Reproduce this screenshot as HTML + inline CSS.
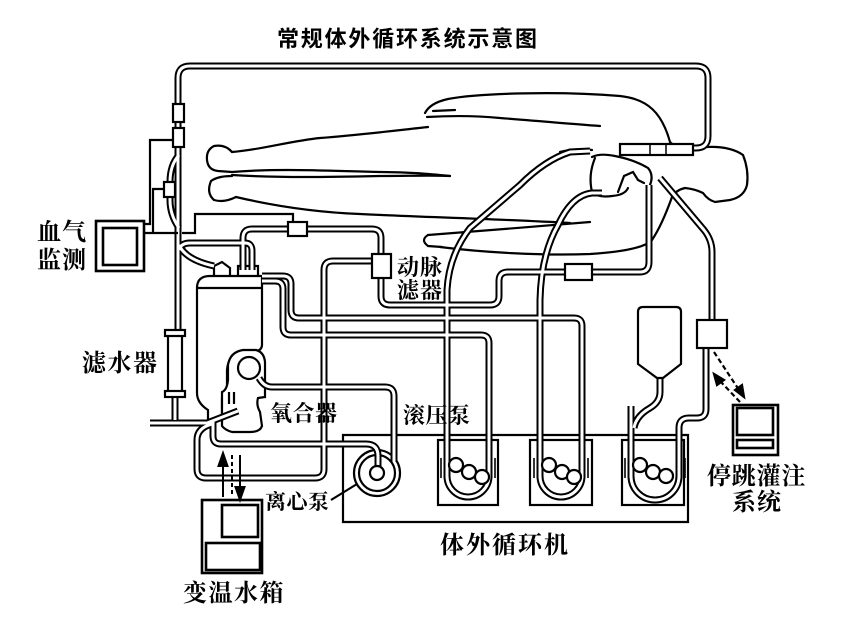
<!DOCTYPE html>
<html>
<head>
<meta charset="utf-8">
<style>
  html,body{margin:0;padding:0;background:#fff;}
  svg{display:block;}
  .lbl{font-family:"Liberation Serif","Noto Serif CJK SC",serif;font-weight:bold;fill:#000;}
  .ttl{font-family:"Liberation Sans","Noto Sans CJK SC",sans-serif;font-weight:bold;fill:#000;}
</style>
</head>
<body>
<svg width="845" height="631" viewBox="0 0 845 631" xmlns="http://www.w3.org/2000/svg">
<rect width="845" height="631" fill="#fff"/>

<defs>
  <g id="tubes" fill="none">
    <path d="M178,330 V78 Q178,66 190,66 H696 Q708,66 708,78 V136 Q708,148 696,148 H620"/>
    <path d="M179,155 Q170,165 170,182 V200 Q170,215 179,228"/>
    <path d="M179,245 Q186,260 214,266"/>
    <path d="M179,250 Q181,243 190,243 H245 Q252,243 252,251 V270"/>
    <path d="M243,270 V238 Q243,229 252,229 H372 Q381,229 381,238 V255"/>
    <path d="M381,279 V296 Q381,305 390,305 H490 Q499,305 499,296 V281 Q499,272 508,272 H566"/>
    <path d="M592,272 H640 Q649,272 649,262 V185"/>
    <path d="M372,261 H333 Q324,261 324,270 V469 Q324,478 315,478 H206 Q197,478 197,469 V440 Q197,428 212,424"/>
    <path d="M262,276 H283 Q291,276 291,284 V310 Q291,318 299,318 H574 Q582,318 582,326 V478"/>
    <path d="M262,281 H275 Q283,281 283,289 V327 Q283,335 291,335 H481 Q489,335 489,343 V478"/>
    <path d="M447,468 V476 A21,21 0 0 0 489,476 V468"/>
    <path d="M447,478 V290 Q449,255 470,228 L520,185 Q545,160 570,152 L590,151"/>
    <path d="M540,468 V476 A21,21 0 0 0 582,476 V468"/>
    <path d="M540,478 V300 Q541,255 558,225 Q572,195 592,193 L602,193"/>
    <path d="M631,468 V476 A24,24 0 0 0 679,476 V468"/>
    <path d="M631,478 V406"/>
    <path d="M660,378 V392 Q660,402 650,408 Q636,416 634,428"/>
    <path d="M679,478 V428 Q679,418 689,418 H697 Q706,418 706,409 V348"/>
    <path d="M712,320 V252 Q712,240 704,230 L660,178"/>
    <path d="M213,420 V436 Q213,444 221,444 H366 Q378,444 378,456 V470"/>
    <path d="M394,462 V396 Q394,387 385,387 H272 Q264,387 259,378"/>
    <path d="M175,398 V420"/>
    <path d="M150,423 H207 L238,411"/>
  </g>
</defs>

<!-- Title -->
<text class="ttl" x="277" y="46.5" font-size="22" letter-spacing="1.8">常规体外循环系统示意图</text>

<!-- Machine box & pump housings -->
<g fill="none" stroke="#000" stroke-width="2.2">
  <path d="M343,435 H688 V522 H343 Z"/>
  <rect x="438" y="440" width="60" height="65"/>
  <rect x="530" y="440" width="62" height="65"/>
  <rect x="622" y="440" width="62" height="65"/>
</g>
<g fill="none" stroke="#000" stroke-width="1.6">
  <path d="M441,458 V478 M495,458 V478"/>
  <path d="M534,458 V478 M588,458 V478"/>
  <path d="M625,458 V478 M685,458 V478"/>
</g>

<!-- Centrifugal pump base circles -->
<g stroke="#000" stroke-width="2.2" fill="#fff">
  <circle cx="377" cy="473" r="23"/>
  <circle cx="377" cy="473" r="18"/>
</g>

<!-- Human body outline -->
<g fill="none" stroke="#000" stroke-width="2.2" stroke-linecap="round">
  <path d="M425,113 Q430,103 448,99 C480,93 560,91 620,96 C648,99 662,113 670,142"/>
  <path d="M433,111 L455,110"/>
  <path d="M427,117 C445,116 470,115 500,118 C540,121 570,124 600,126"/>
  <path d="M232,152 C260,150 290,141 320,138 C360,135 400,130 428,127"/>
  <path d="M232,152 Q225,144 214,146 Q206,150 207,160 Q208,170 218,171 L232,172"/>
  <path d="M232,172 C280,168 330,171 380,172 C410,172 430,174 450,176"/>
  <path d="M232,175 C280,178 330,177 380,176 C410,176 430,175 450,176"/>
  <path d="M232,176 Q218,176 211,181 Q206,193 214,200 Q224,203 236,197"/>
  <path d="M236,197 C270,205 310,212 360,214 C420,217 500,219 570,223"/>
  <path d="M428,235 C470,232 540,226 590,222"/>
  <path d="M428,235 Q420,240 428,246 L442,247"/>
  <path d="M440,247 C480,252 540,256 590,254 C620,252 645,248 652,240 Q662,225 672,197 Q676,190 685,188"/>
  <path d="M670,142 Q675,148 690,148 L707,147 Q730,146 743,155 Q749,170 747,185 Q744,197 730,200 L715,202 Q708,200 703,193 Q695,189 685,188"/>
  <path d="M592,157 Q600,153 615,156 Q635,160 648,168 Q654,175 650,185"/>
  <path d="M595,158 Q588,175 592,192 Q598,198 612,196 Q625,195 628,188"/>
  <path d="M618,192 L624,176 L633,172 L638,180 L644,183"/>
  <path d="M560,152 Q575,148 592,150"/>
</g>

<!-- Reservoir & oxygenator -->
<g fill="#fff" stroke="#000" stroke-width="2.2">
  <path d="M208,420 V410 Q197,403 197,393 V288 Q197,276 210,276 H262 V345 Q262,350 255,352 L240,352 Q228,356 227,370 V392 L222,398 V420 Z"/>
  <path d="M222,420 V392 Q227,390 228,380 V365 Q230,352 243,350 L256,350 Q264,352 265,362 V397 L258,398 Q256,405 260,412 L262,426 Q260,432 250,432 L232,432 Q225,430 222,426 Z"/>
</g>
<g fill="none" stroke="#000" stroke-width="2.2">
  <path d="M197,288 H262"/>
  <path d="M214,276 V266 L222,262 L230,268 V276 M238,276 V266 H258 V276"/>
  <path d="M229,392 V404 M234,392 V404"/>
</g>
<circle cx="249" cy="368" r="11" fill="#fff" stroke="#000" stroke-width="2.2"/>

<!-- Tubes -->
<use href="#tubes" stroke="#000" stroke-width="7"/>
<use href="#tubes" stroke="#fff" stroke-width="3"/>

<!-- Centrifugal inner -->
<circle cx="377" cy="473" r="7" fill="#fff" stroke="#000" stroke-width="2.2"/>

<!-- Rollers -->
<g fill="#fff" stroke="#000" stroke-width="2.2">
  <circle cx="456" cy="465" r="7"/><circle cx="469" cy="472" r="7"/><circle cx="482" cy="477" r="7"/>
  <circle cx="549" cy="465" r="7"/><circle cx="562" cy="472" r="7"/><circle cx="574" cy="477" r="7"/>
  <circle cx="640" cy="465" r="7"/><circle cx="653" cy="472" r="7"/><circle cx="666" cy="476" r="7"/>
</g>

<!-- Connectors, filters, bag, boxes -->
<g fill="#fff" stroke="#000" stroke-width="2.2">
  <rect x="173" y="104" width="11" height="18"/>
  <rect x="173" y="128" width="11" height="19"/>
  <rect x="164" y="182" width="11" height="15"/>
  <rect x="288" y="222" width="19" height="14"/>
  <rect x="372" y="254" width="19" height="24"/>
  <rect x="565" y="264" width="27" height="16"/>
  <rect x="620" y="144" width="73" height="11"/>
  <rect x="697" y="320" width="30" height="28"/>
  <path d="M638,312 Q638,307 643,307 H676 Q681,307 681,312 V364 L663,378 L657,378 L638,364 Z"/>
  <rect x="168" y="334" width="14" height="60"/>
  <rect x="165" y="330" width="20" height="6"/>
  <rect x="165" y="391" width="20" height="6"/>
</g>
<g stroke="#000" stroke-width="1.5" fill="none">
  <path d="M650,144 V155 M666,144 V155"/>
</g>

<!-- Thin signal lines -->
<g fill="none" stroke="#000" stroke-width="2.2">
  <path d="M173,140 H150 V224 H144"/>
  <path d="M164,189 H153 V233"/>
  <path d="M144,233 H178"/>
  <path d="M182,233 H195 V214 H293 V222"/>
  <path d="M331,500 L357,484"/>
</g>

<!-- Blood gas monitor -->
<g fill="#fff" stroke="#000" stroke-width="2.6">
  <rect x="96" y="221" width="48" height="50"/>
  <rect x="103" y="228" width="34" height="37"/>
</g>

<!-- Heater/cooler -->
<g fill="#fff" stroke="#000" stroke-width="2.6">
  <rect x="202" y="500" width="60" height="73"/>
  <rect x="222" y="505" width="36" height="32"/>
  <rect x="206" y="543" width="54" height="27"/>
</g>
<g stroke="#000" stroke-width="2" fill="#000">
  <line x1="223" y1="497" x2="223" y2="462"/>
  <polygon points="218.5,466 223,453 227.5,466"/>
  <line x1="240" y1="455" x2="240" y2="490"/>
  <polygon points="235.5,487 240,500 244.5,487"/>
  <line x1="232" y1="455" x2="232" y2="496" stroke-dasharray="4,3"/>
</g>

<!-- Cardioplegia monitor -->
<g fill="#fff" stroke="#000" stroke-width="2.6">
  <rect x="733" y="405" width="45" height="50"/>
  <rect x="737" y="408" width="36" height="27"/>
  <rect x="737" y="440" width="36" height="8"/>
</g>
<g stroke="#000" stroke-width="2.2" fill="#000">
  <line x1="714" y1="352" x2="739" y2="390" stroke-dasharray="5,3"/>
  <polygon points="735,390 744,397 742,385"/>
  <line x1="740" y1="402" x2="720" y2="381" stroke-dasharray="5,3"/>
  <polygon points="714,374 724,380 717,385"/>
</g>

<!-- Labels -->
<text class="lbl" x="37" y="240" font-size="24" letter-spacing="1">血气</text>
<text class="lbl" x="37" y="268" font-size="24" letter-spacing="1">监测</text>
<text class="lbl" x="82" y="371" font-size="24" letter-spacing="1.5">滤水器</text>
<text class="lbl" x="397" y="275" font-size="22" letter-spacing="1">动脉</text>
<text class="lbl" x="397" y="298" font-size="22" letter-spacing="1">滤器</text>
<text class="lbl" x="270" y="421" font-size="22" letter-spacing="0.5">氧合器</text>
<text class="lbl" x="403" y="423" font-size="22" letter-spacing="0.5">滚压泵</text>
<text class="lbl" x="265" y="509" font-size="21" letter-spacing="0.5">离心泵</text>
<text class="lbl" x="440" y="553" font-size="24" letter-spacing="2">体外循环机</text>
<text class="lbl" x="183" y="601" font-size="24" letter-spacing="1.5">变温水箱</text>
<text class="lbl" x="707" y="484" font-size="24" letter-spacing="0.8">停跳灌注</text>
<text class="lbl" x="732" y="510" font-size="24" letter-spacing="1">系统</text>
</svg>
</body>
</html>
